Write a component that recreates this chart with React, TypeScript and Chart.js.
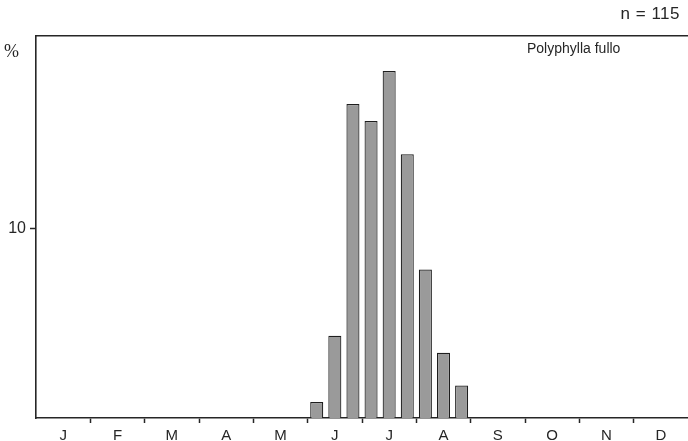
import React, { useEffect, useRef } from 'react';
import { Chart, registerables } from 'chart.js';

Chart.register(...registerables);

// Month tick labels (one per month, shown in the middle decade)
const monthLabels = ['J', 'F', 'M', 'A', 'M', 'J', 'J', 'A', 'S', 'O', 'N', 'D'];

// 36 ten-day periods (decades), three per month
const decadeLabels = [
  'Jan-1', 'Jan-2', 'Jan-3', 'Feb-1', 'Feb-2', 'Feb-3', 'Mar-1', 'Mar-2', 'Mar-3',
  'Apr-1', 'Apr-2', 'Apr-3', 'May-1', 'May-2', 'May-3', 'Jun-1', 'Jun-2', 'Jun-3',
  'Jul-1', 'Jul-2', 'Jul-3', 'Aug-1', 'Aug-2', 'Aug-3', 'Sep-1', 'Sep-2', 'Sep-3',
  'Oct-1', 'Oct-2', 'Oct-3', 'Nov-1', 'Nov-2', 'Nov-3', 'Dec-1', 'Dec-2', 'Dec-3',
];

// Percentage of records per decade (n = 115)
const percentValues = [
  0, 0, 0, 0, 0, 0, 0, 0, 0,
  0, 0, 0, 0, 0, 0, 0.85, 4.35, 16.6,
  15.7, 18.35, 13.95, 7.85, 3.45, 1.72, 0, 0, 0,
  0, 0, 0, 0, 0, 0, 0, 0, 0,
];

const yTickValues = [10];
const yMax = 20.2;

const speciesName = 'Polyphylla fullo';
const sampleSize = 'n = 115';
const unitLabel = '%';

const ink = '#262626';

export default function App() {
  const canvasRef = useRef<HTMLCanvasElement | null>(null);

  useEffect(() => {
    if (!canvasRef.current) return;
    const chart = new Chart(canvasRef.current, {
      type: 'bar',
      data: {
        labels: decadeLabels,
        datasets: [
          {
            data: percentValues,
            backgroundColor: '#9a9a9a',
            borderColor: '#1e1e1e',
            borderWidth: 1.2,
            borderSkipped: 'start',
            barPercentage: 0.72,
            categoryPercentage: 1,
          },
        ],
      },
      options: {
        animation: false,
        responsive: false,
        maintainAspectRatio: false,
        layout: { padding: 0 },
        plugins: {
          legend: { display: false },
          tooltip: { enabled: false },
          title: { display: false },
        },
        scales: {
          x: {
            type: 'category',
            position: 'bottom',
            offset: true,
            grid: {
              offset: true,
              drawOnChartArea: false,
              drawTicks: true,
              tickLength: 5,
              tickWidth: 1.5,
              tickColor: (ctx: any) =>
                typeof ctx.index === 'number' && ctx.index % 3 === 0 && ctx.index > 0 && ctx.index < 36
                  ? ink
                  : 'rgba(0,0,0,0)',
            },
            border: { display: true, color: ink, width: 1.6 },
            ticks: {
              autoSkip: false,
              maxRotation: 0,
              minRotation: 0,
              padding: 4,
              color: ink,
              font: { family: 'Liberation Sans', size: 15 },
              callback: (_v: any, i: number) => (i % 3 === 1 ? monthLabels[(i - 1) / 3] : ''),
            },
            afterFit: (s: any) => {
              s.height = 23;
            },
          },
          xTop: {
            type: 'category',
            position: 'top',
            offset: true,
            grid: { display: false, drawTicks: false },
            ticks: { display: false },
            border: { display: true, color: ink, width: 1.6 },
            afterFit: (s: any) => {
              s.height = 36;
            },
          },
          y: {
            min: 0,
            max: yMax,
            grid: {
              drawOnChartArea: false,
              drawTicks: true,
              tickLength: 6,
              tickWidth: 1.5,
              tickColor: ink,
            },
            border: { display: true, color: ink, width: 1.6 },
            ticks: {
              padding: 4,
              color: ink,
              font: { family: 'Liberation Sans', size: 16 },
              stepSize: 10,
            },
            afterBuildTicks: (s: any) => {
              s.ticks = yTickValues.map((v) => ({ value: v }));
            },
            afterFit: (s: any) => {
              s.width = 36;
            },
          },
        },
      },
    });
    return () => chart.destroy();
  }, []);

  return (
    <div
      style={{
        position: 'fixed',
        left: 0,
        top: 0,
        width: 688,
        height: 441,
        background: '#ffffff',
        overflow: 'hidden',
      }}
    >
      <canvas ref={canvasRef} width={688} height={441} style={{ width: 688, height: 441, display: 'block' }} />
      <div
        style={{
          position: 'absolute',
          left: 4,
          top: 42,
          fontFamily: 'Liberation Serif',
          fontSize: 18,
          lineHeight: '18px',
          color: ink,
        }}
      >
        {unitLabel}
      </div>
      <div
        style={{
          position: 'absolute',
          right: 8,
          top: 5,
          fontFamily: 'Liberation Sans',
          fontSize: 17,
          lineHeight: '17px',
          letterSpacing: 0.5,
          color: ink,
          whiteSpace: 'pre',
        }}
      >
        {sampleSize}
      </div>
      <div
        style={{
          position: 'absolute',
          left: 527,
          top: 41,
          fontFamily: 'Liberation Sans',
          fontSize: 14,
          lineHeight: '14px',
          color: ink,
        }}
      >
        {speciesName}
      </div>
    </div>
  );
}
